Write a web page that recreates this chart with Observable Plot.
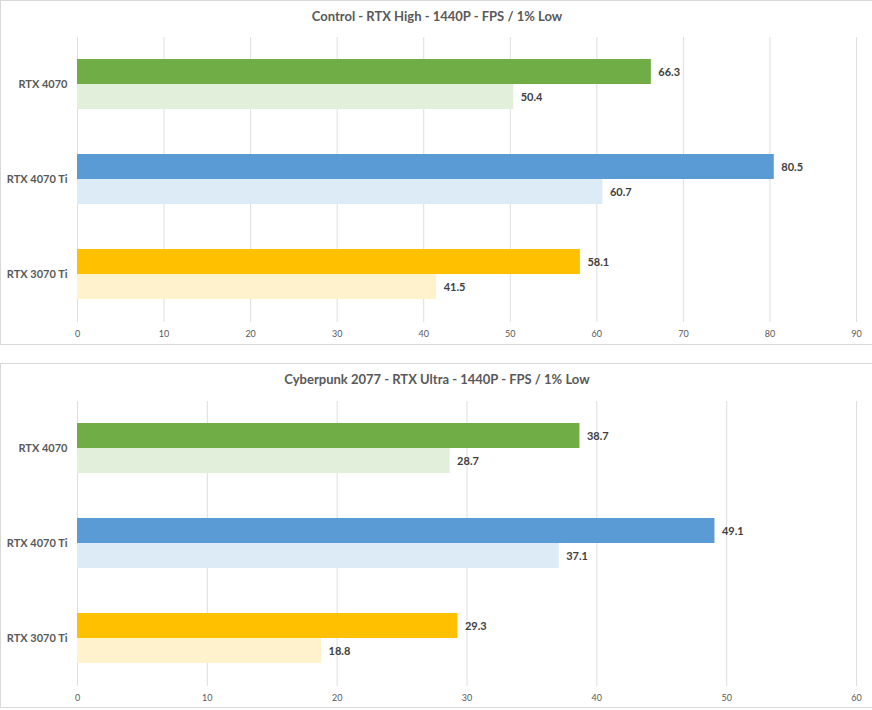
<!DOCTYPE html>
<html>
<head>
<meta charset="utf-8">
<script src="https://cdn.jsdelivr.net/npm/d3@7"></script>
<script src="https://cdn.jsdelivr.net/npm/@observablehq/plot@0.6"></script>
<style>
  html, body { margin: 0; padding: 0; background: #fff; }
  body { width: 872px; height: 710px; position: relative; overflow: hidden; font-family: Lato, "Open Sans", sans-serif; }
  .panel { position: absolute; left: 0; width: 872px; height: 343px; border: 1px solid #d9d9d9; background: #fff; }
  .title { height: 30px; line-height: 30px; text-align: center; font-weight: bold; font-size: 13px; color: #595959; }
  .panel svg { display: block; }
</style>
</head>
<body>
<div class="panel" id="p1" style="top:0px"><div class="title">Control - RTX High - 1440P - FPS / 1% Low</div></div>
<div class="panel" id="p2" style="top:363px"><div class="title">Cyberpunk 2077 - RTX Ultra - 1440P - FPS / 1% Low</div></div>
<script>
const gpus = ["RTX 4070", "RTX 4070 Ti", "RTX 3070 Ti"];
const controlAvg = [66.3, 80.5, 58.1];
const controlLow = [50.4, 60.7, 41.5];
const cyberAvg = [38.7, 49.1, 29.3];
const cyberLow = [28.7, 37.1, 18.8];
const controlTicks = [0, 10, 20, 30, 40, 50, 60, 70, 80, 90];
const cyberTicks = [0, 10, 20, 30, 40, 50, 60];
const avgColors = ["#70AD47", "#5B9BD5", "#FFC000"];
const lowColors = ["#E2EFDA", "#DDEBF7", "#FFF2CC"];

function makeChart(avg, low, ticks, marginTop, marginBottom) {
  const avgRows = gpus.map((g, i) => ({gpu: g, key: g + " avg", value: avg[i]}));
  const lowRows = gpus.map((g, i) => ({gpu: g, key: g + " low", value: low[i]}));
  return Plot.plot({
    width: 872,
    height: 313,
    marginLeft: 76,
    marginRight: 17,
    marginTop,
    marginBottom,
    style: {fontFamily: "Lato, 'Open Sans', sans-serif", background: "#fff", overflow: "visible"},
    x: {domain: [ticks[0], ticks[ticks.length - 1]], axis: null},
    y: {domain: gpus, paddingInner: 0.47, paddingOuter: 0.235, axis: null},
    color: {
      type: "ordinal",
      domain: [...avgRows.map(d => d.key), ...lowRows.map(d => d.key)],
      range: [...avgColors, ...lowColors]
    },
    marks: [
      Plot.ruleX(ticks, {stroke: "#dedede", strokeWidth: 1}),
      Plot.barX(avgRows, {x: "value", y: "gpu", fill: "key", insetBottom: 25}),
      Plot.barX(lowRows, {x: "value", y: "gpu", fill: "key", insetTop: 25}),
      Plot.text(avgRows, {x: "value", y: "gpu", text: d => d.value.toFixed(1), dy: -12.5, dx: 7, textAnchor: "start", fontWeight: "bold", fontSize: 11, fill: "#404040"}),
      Plot.text(lowRows, {x: "value", y: "gpu", text: d => d.value.toFixed(1), dy: 12.5, dx: 7, textAnchor: "start", fontWeight: "bold", fontSize: 11, fill: "#404040"}),
      Plot.axisY({tickSize: 0, tickPadding: 10, fontWeight: "bold", fontSize: 11, color: "#595959", label: null}),
      Plot.axisX({ticks, tickSize: 0, tickPadding: 8, fontSize: 9, color: "#595959", label: null, tickFormat: d => String(d)})
    ]
  });
}

document.getElementById("p1").appendChild(makeChart(controlAvg, controlLow, controlTicks, 6, 22));
document.getElementById("p2").appendChild(makeChart(cyberAvg, cyberLow, cyberTicks, 7, 21));
</script>
</body>
</html>
